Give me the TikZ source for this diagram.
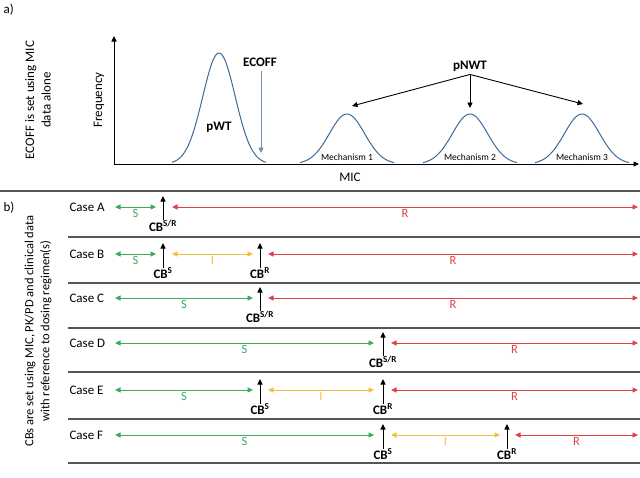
\documentclass[tikz,border=0pt]{standalone}
\usepackage{fontspec}
\setmainfont{Carlito}
\usepackage{xcolor}
\usepackage{tikz}
\usetikzlibrary{arrows.meta, positioning}

\definecolor{sgreen}{HTML}{3AAA5F}
\definecolor{ired}{HTML}{E0404A}
\definecolor{iyellow}{HTML}{F3BE3E}
\definecolor{curveblue}{HTML}{3A6A9A}
\definecolor{ecoffblue}{HTML}{6A90B8}
\definecolor{sepgray}{HTML}{555555}

\tikzset{
  tip/.style={-{Triangle[length=5.5pt,width=5pt]}},
  rng/.style={line width=0.9pt, {Triangle[length=5.5pt,width=5pt]}-{Triangle[length=5.5pt,width=5pt]}},
  srng/.style={rng, sgreen},
  irng/.style={rng, iyellow},
  rrng/.style={rng, ired},
  rlab/.style={below, inner sep=2pt, font=\fontsize{12.5}{14}\selectfont},
  cblab/.style={font=\fontsize{13}{14}\selectfont\bfseries, inner sep=0pt},
  cbmark/.style={tip, line width=0.9pt, black},
  caselab/.style={anchor=west, font=\fontsize{13}{15}\selectfont},
  sepline/.style={line width=1.1pt, sepgray},
  bump/.style={line width=1pt, curveblue}
}

\begin{document}
\begin{tikzpicture}[x=1pt,y=-1pt]
\useasboundingbox (0,0) rectangle (640,477);

% ---- panel a)
\node[anchor=west, font=\fontsize{13}{15}\selectfont] (pa) at (0,10) {a)};
\node[rotate=90, align=center, font=\fontsize{13}{16.5}\selectfont] (sidea) at (38,100)
  {ECOFF is set using MIC\\data alone};
\node[rotate=90, font=\fontsize{13}{15}\selectfont] (freq) at (99,100) {Frequency};
\coordinate (orig) at (114,164);
\coordinate (ytop) at (114,36);
\coordinate (xend) at (639,164);
\draw[tip, line width=0.9pt] (orig) -- (ytop);
\draw[tip, line width=0.9pt] (orig) -- (xend);
\node[font=\fontsize{13}{15}\selectfont] (mic) at (350,177) {MIC};

% distributions
\draw[bump] plot[domain=-47:47, samples=70] ({219+\x}, {164-111*exp(-(\x/23)^2)});
\draw[bump] plot[domain=-47:47, samples=70] ({347+\x}, {164-50*exp(-(\x/25)^2)});
\draw[bump] plot[domain=-47:47, samples=70] ({470+\x}, {164-50*exp(-(\x/25)^2)});
\draw[bump] plot[domain=-47:47, samples=70] ({582+\x}, {164-50*exp(-(\x/25)^2)});
\node[font=\fontsize{13}{15}\selectfont\bfseries] (pwt) at (219,127) {pWT};
\node[font=\fontsize{9.5}{11}\selectfont] (mech1) at (347,157) {Mechanism 1};
\node[font=\fontsize{9.5}{11}\selectfont] (mech2) at (470,157) {Mechanism 2};
\node[font=\fontsize{9.5}{11}\selectfont] (mech3) at (582,157) {Mechanism 3};

% ECOFF
\node[font=\fontsize{13}{15}\selectfont\bfseries, inner sep=1pt] (ecoff) at (260,62) {ECOFF};
\coordinate (ecofftip) at (261,153);
\draw[tip, line width=0.9pt, ecoffblue] (ecoff.south -| ecofftip) ++(0,3) -- (ecofftip);

% pNWT
\node[font=\fontsize{13}{15}\selectfont\bfseries, inner sep=1pt] (pnwt) at (470,66) {pNWT};
\coordinate (t1) at (352,106);
\coordinate (t2) at (470,108);
\coordinate (t3) at (583,104);
\draw[tip, line width=0.9pt] (pnwt.south) ++(0,2) -- (t1);
\draw[tip, line width=0.9pt] (pnwt.south) ++(0,2) -- (t2);
\draw[tip, line width=0.9pt] (pnwt.south) ++(0,2) -- (t3);

% ---- panel b)
\coordinate (sepl) at (0,191);
\coordinate (sepr) at (640,191);
\draw[sepline] (sepl) -- (sepr);
\node[anchor=west, font=\fontsize{13}{15}\selectfont] (pb) at (0,208) {b)};
\node[rotate=90, align=center, font=\fontsize{12.5}{16}\selectfont] (sideb) at (38,331)
  {CBs are set using MIC, PK/PD and clinical data\\with reference to dosing regimen(s)};
\foreach \y in {237,283,328,372,419,463}
  \draw[sepline] (68,\y) -- (640,\y);

% Case A
\node[caselab] (caseA) at (66,207) {Case A};
\coordinate (a0) at (115,207); \coordinate (a1) at (156,207);
\coordinate (a2) at (172,207); \coordinate (a3) at (638,207);
\draw[srng] (a0) -- node[rlab] {S} (a1);
\draw[rrng] (a2) -- node[rlab] {R} (a3);
\node[cblab] (cbA) at (163,226) {CB\textsuperscript{S/R}};
\coordinate (mA) at (163,196);
\draw[cbmark] (cbA.north -| mA) -- (mA);

% Case B
\node[caselab] (caseB) at (66,254) {Case B};
\coordinate (b0) at (115,254); \coordinate (b1) at (156,254);
\coordinate (b2) at (172,254); \coordinate (b3) at (253,254);
\coordinate (b4) at (268,254); \coordinate (b5) at (638,254);
\draw[srng] (b0) -- node[rlab] {S} (b1);
\draw[irng] (b2) -- node[rlab] {I} (b3);
\draw[rrng] (b4) -- node[rlab] {R} (b5);
\node[cblab] (cbB1) at (163,273) {CB\textsuperscript{S}};
\node[cblab] (cbB2) at (260,273) {CB\textsuperscript{R}};
\coordinate (mB1) at (163,243); \coordinate (mB2) at (260,243);
\draw[cbmark] (cbB1.north -| mB1) -- (mB1);
\draw[cbmark] (cbB2.north -| mB2) -- (mB2);

% Case C
\node[caselab] (caseC) at (66,298) {Case C};
\coordinate (c0) at (115,298); \coordinate (c1) at (253,298);
\coordinate (c2) at (268,298); \coordinate (c3) at (638,298);
\draw[srng] (c0) -- node[rlab] {S} (c1);
\draw[rrng] (c2) -- node[rlab] {R} (c3);
\node[cblab] (cbC) at (260,317) {CB\textsuperscript{S/R}};
\coordinate (mC) at (260,287);
\draw[cbmark] (cbC.north -| mC) -- (mC);

% Case D
\node[caselab] (caseD) at (66,343) {Case D};
\coordinate (d0) at (115,343); \coordinate (d1) at (374,343);
\coordinate (d2) at (391,343); \coordinate (d3) at (638,343);
\draw[srng] (d0) -- node[rlab] {S} (d1);
\draw[rrng] (d2) -- node[rlab] {R} (d3);
\node[cblab] (cbD) at (383,362) {CB\textsuperscript{S/R}};
\coordinate (mD) at (383,332);
\draw[cbmark] (cbD.north -| mD) -- (mD);

% Case E
\node[caselab] (caseE) at (66,390) {Case E};
\coordinate (e0) at (115,390); \coordinate (e1) at (253,390);
\coordinate (e2) at (268,390); \coordinate (e3) at (374,390);
\coordinate (e4) at (391,390); \coordinate (e5) at (638,390);
\draw[srng] (e0) -- node[rlab] {S} (e1);
\draw[irng] (e2) -- node[rlab] {I} (e3);
\draw[rrng] (e4) -- node[rlab] {R} (e5);
\node[cblab] (cbE1) at (260,409) {CB\textsuperscript{S}};
\node[cblab] (cbE2) at (383,409) {CB\textsuperscript{R}};
\coordinate (mE1) at (260,379); \coordinate (mE2) at (383,379);
\draw[cbmark] (cbE1.north -| mE1) -- (mE1);
\draw[cbmark] (cbE2.north -| mE2) -- (mE2);

% Case F
\node[caselab] (caseF) at (66,435) {Case F};
\coordinate (f0) at (115,435); \coordinate (f1) at (374,435);
\coordinate (f2) at (391,435); \coordinate (f3) at (500,435);
\coordinate (f4) at (515,435); \coordinate (f5) at (638,435);
\draw[srng] (f0) -- node[rlab] {S} (f1);
\draw[irng] (f2) -- node[rlab] {I} (f3);
\draw[rrng] (f4) -- node[rlab] {R} (f5);
\node[cblab] (cbF1) at (383,454) {CB\textsuperscript{S}};
\node[cblab] (cbF2) at (507,454) {CB\textsuperscript{R}};
\coordinate (mF1) at (383,424); \coordinate (mF2) at (507,424);
\draw[cbmark] (cbF1.north -| mF1) -- (mF1);
\draw[cbmark] (cbF2.north -| mF2) -- (mF2);
\end{tikzpicture}
\end{document}
